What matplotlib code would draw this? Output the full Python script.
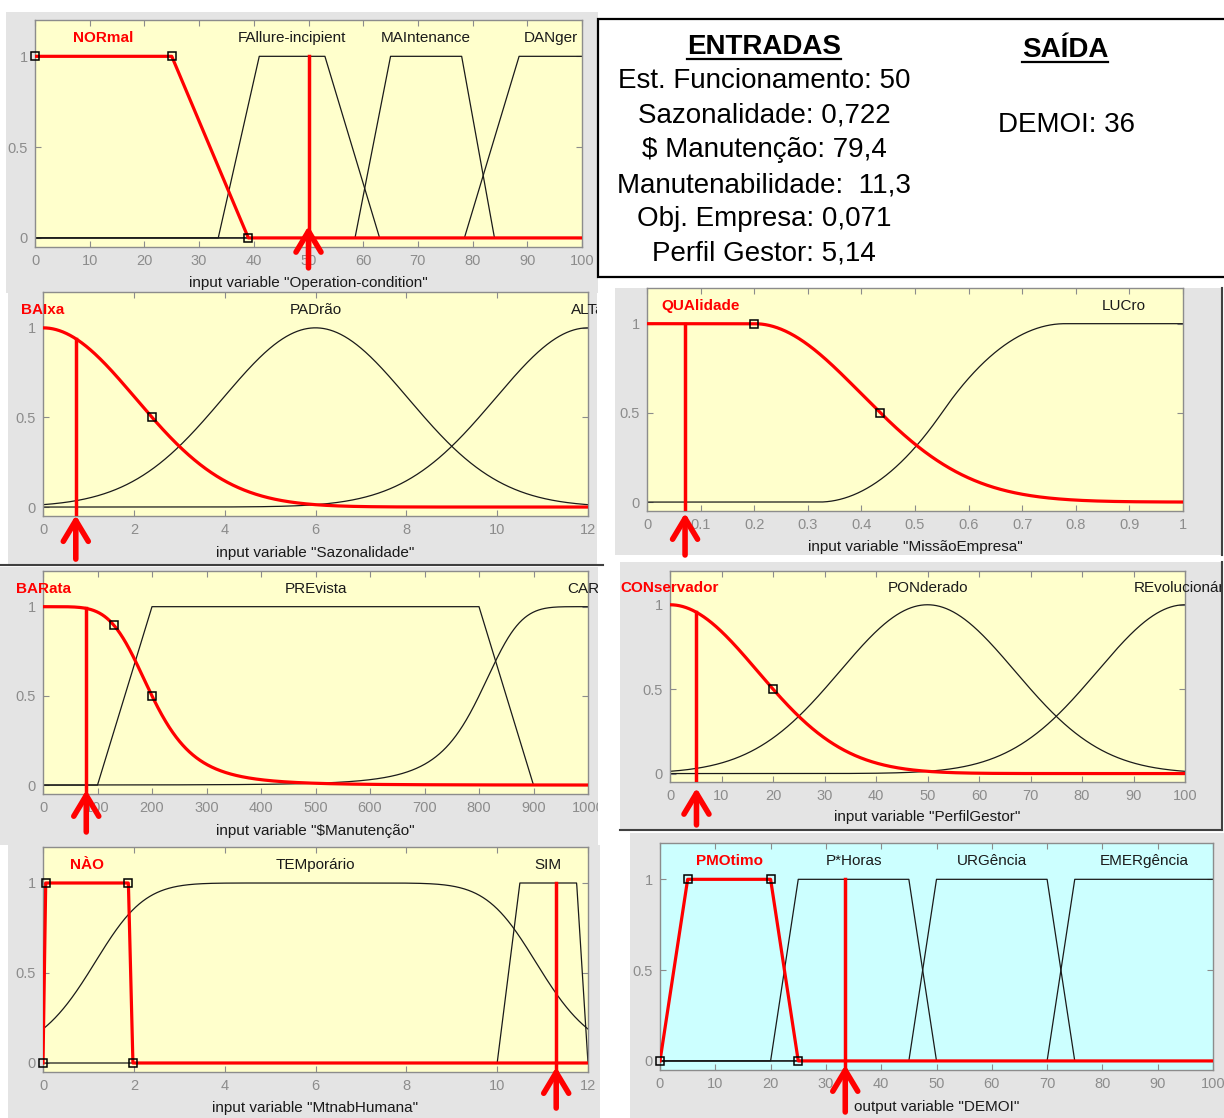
import numpy as np
import matplotlib
matplotlib.use('Agg')
import matplotlib.pyplot as plt
from matplotlib.patches import Rectangle
from matplotlib.lines import Line2D
from matplotlib.transforms import Bbox, TransformedBbox

plt.rcParams['font.family'] = ['Liberation Sans', 'DejaVu Sans']

# ---- membership function data ----
oper_names = ['NORmal', 'FAllure-incipient', 'MAIntenance', 'DANger']
oper_trap = [[0, 0, 25, 39], [33.5, 41, 53, 63], [58.5, 65, 78, 84], [78.5, 88.5, 100, 100]]
oper_ticks = [0, 10, 20, 30, 40, 50, 60, 70, 80, 90, 100]
oper_input = 50
oper_marks = [(0, 1), (25, 1), (39, 0)]

saz_names = ['BAIxa', 'PADrão', 'ALTa']
saz_centers = [0, 6, 12]
saz_sigma = 2.04
saz_ticks = [0, 2, 4, 6, 8, 10, 12]
saz_input = 0.722
saz_marks = [(2.4, 0.5)]

missao_names = ['QUAlidade', 'LUCro']
missao_qua = [0.2, 0.2]      # flat until c, then gaussian tail (c, sigma)
missao_lucro = [0.32, 0.78]  # s-shaped
missao_ticks = [0, 0.1, 0.2, 0.3, 0.4, 0.5, 0.6, 0.7, 0.8, 0.9, 1]
missao_input = 0.071
missao_marks = [(0.2, 1), (0.435, 0.5)]

manut_names = ['BARata', 'PREvista', 'CARa']
manut_barata = [200, 2.5, 0]     # bell a, b, c
manut_prevista = [100, 200, 800, 900]
manut_cara = [200, 2.5, 1000]
manut_ticks = [0, 100, 200, 300, 400, 500, 600, 700, 800, 900, 1000]
manut_input = 79.4
manut_marks = [(130, 0.9), (200, 0.5)]

perfil_names = ['CONservador', 'PONderado', 'REvolucionário']
perfil_centers = [0, 50, 100]
perfil_sigma = 17
perfil_ticks = [0, 10, 20, 30, 40, 50, 60, 70, 80, 90, 100]
perfil_input = 5.14
perfil_marks = [(20, 0.5)]

mtnab_names = ['NÀO', 'TEMporário', 'SIM']
mtnab_nao = [0, 0.06, 1.88, 1.98]
mtnab_temp = [5, 4, 6]
mtnab_sim = [10, 10.5, 11.75, 12]
mtnab_ticks = [0, 2, 4, 6, 8, 10, 12]
mtnab_input = 11.3
mtnab_marks = [(0, 0), (0.06, 1), (1.88, 1), (1.98, 0)]

demoi_names = ['PMOtimo', 'P*Horas', 'URGência', 'EMERgência']
demoi_trap = [[0, 5, 20, 25], [20, 25, 45, 50], [45, 50, 70, 75], [70, 75, 100, 100]]
demoi_ticks = [0, 10, 20, 30, 40, 50, 60, 70, 80, 90, 100]
demoi_output = 33.5
demoi_marks = [(0, 0), (5, 1), (20, 1), (25, 0)]

entradas_title = 'ENTRADAS'
entradas_lines = ['Est. Funcionamento: 50', 'Sazonalidade: 0,722', '$ Manutenção: 79,4',
                  'Manutenabilidade:  11,3', 'Obj. Empresa: 0,071', 'Perfil Gestor: 5,14']
saida_title = 'SAÍDA'
saida_lines = ['DEMOI: 36']


def trapmf(x, p):
    a, b, c, d = p
    up = np.where(x >= a, 1.0, 0.0) if b == a else np.clip((x - a) / (b - a), 0, 1)
    down = np.where(x <= d, 1.0, 0.0) if d == c else np.clip((d - x) / (d - c), 0, 1)
    return np.minimum(up, down)


def gaussmf(x, c, s):
    return np.exp(-(x - c) ** 2 / (2 * s ** 2))


def gbellmf(x, p):
    a, b, c = p
    return 1.0 / (1.0 + np.abs((x - c) / a) ** (2 * b))


def halfgauss(x, p):
    c, s = p
    return np.where(x <= c, 1.0, gaussmf(x, c, s))


def smf(x, p):
    a, b = p
    m = (a + b) / 2
    y = np.where(x <= m, 2 * ((x - a) / (b - a)) ** 2, 1 - 2 * ((b - x) / (b - a)) ** 2)
    y = np.where(x <= a, 0.0, y)
    return np.where(x >= b, 1.0, y)


def grid(ticks):
    return np.linspace(ticks[0], ticks[-1], 2001)


xs = grid(oper_ticks)
oper_curves = [trapmf(xs, p) for p in oper_trap]
xz = grid(saz_ticks)
saz_curves = [gaussmf(xz, c, saz_sigma) for c in saz_centers]
xm = grid(missao_ticks)
missao_curves = [halfgauss(xm, missao_qua), smf(xm, missao_lucro)]
xn = grid(manut_ticks)
manut_curves = [gbellmf(xn, manut_barata), trapmf(xn, manut_prevista), gbellmf(xn, manut_cara)]
xp = grid(perfil_ticks)
perfil_curves = [gaussmf(xp, c, perfil_sigma) for c in perfil_centers]
xh = grid(mtnab_ticks)
mtnab_curves = [trapmf(xh, mtnab_nao), gbellmf(xh, mtnab_temp), trapmf(xh, mtnab_sim)]
xd = grid(demoi_ticks)
demoi_curves = [trapmf(xd, p) for p in demoi_trap]

W, H = 1224, 1118
fig = plt.figure(figsize=(W / 100, H / 100), dpi=100)
fig.patch.set_facecolor('white')


def fbox(l, t, r, b):
    return [l / W, 1 - b / H, (r - l) / W, (b - t) / H]


YELLOW = '#ffffcc'
CYAN = '#ccffff'
GRAY_BG = '#e4e4e4'
TICKC = '#8c8c8c'

# (x, curves, names, ticks, value, marks, xlabel, ax box, bg box, xlabel y, arrow tip, arrow len px, face)
panels = [
    (xs, oper_curves, oper_names, oper_ticks, oper_input, oper_marks,
     'input variable "Operation-condition"', (35, 20, 582, 247), (6, 12, 598, 293), 283, 0.093, 42, YELLOW),
    (xz, saz_curves, saz_names, saz_ticks, saz_input, saz_marks,
     'input variable "Sazonalidade"', (43, 292, 588, 516), (8, 293, 597, 565), 553, 0.004, 44, YELLOW),
    (xm, missao_curves, missao_names, missao_ticks, missao_input, missao_marks,
     'input variable "MissãoEmpresa"', (647, 288, 1183, 511), (615, 288, 1222, 555), 547, -0.009, 42, YELLOW),
    (xn, manut_curves, manut_names, manut_ticks, manut_input, manut_marks,
     'input variable "$Manutenção"', (43, 571, 588, 794), (0, 567, 598, 845), 831, 0.018, 42, YELLOW),
    (xp, perfil_curves, perfil_names, perfil_ticks, perfil_input, perfil_marks,
     'input variable "PerfilGestor"', (670, 571, 1185, 782), (620, 562, 1222, 830), 817, -0.028, 37, YELLOW),
    (xh, mtnab_curves, mtnab_names, mtnab_ticks, mtnab_input, mtnab_marks,
     'input variable "MtnabHumana"', (43, 847, 588, 1072), (8, 845, 600, 1118), 1108, 0.022, 41, YELLOW),
    (xd, demoi_curves, demoi_names, demoi_ticks, demoi_output, demoi_marks,
     'output variable "DEMOI"', (660, 843, 1213, 1070), (630, 833, 1224, 1118), 1107, 0.022, 47, CYAN),
]

for x, curves, names, ticks, val, marks, xlab, abox, bgbox, xly, tip, alen, face in panels:
    fig.add_artist(Rectangle((fbox(*bgbox)[0], fbox(*bgbox)[1]), fbox(*bgbox)[2], fbox(*bgbox)[3],
                             transform=fig.transFigure, facecolor=GRAY_BG, edgecolor='none', zorder=-5))
    clip = TransformedBbox(Bbox.from_bounds(*fbox(*bgbox)), fig.transFigure)

    ax = fig.add_axes(fbox(*abox))
    ax.set_facecolor(face)
    for i in range(len(curves) - 1, 0, -1):
        ax.plot(x, curves[i], color='#1a1a1a', lw=0.9, zorder=2)
    ax.plot(x, curves[0], color='red', lw=2.3, zorder=3)
    mx, my = zip(*marks)
    ax.plot(mx, my, 's', ms=6, mfc='none', mec='black', mew=1.1, zorder=4, clip_on=False)

    for i, (yc, nm) in enumerate(zip(curves, names)):
        lx = x[yc >= yc.max() - 1e-9].mean()
        t = ax.text(lx, 1.1, nm, ha='center', va='center', fontsize=11,
                    color='red' if i == 0 else '#1a1a1a', fontweight='bold' if i == 0 else 'normal',
                    clip_on=True)
        t.set_clip_box(clip)

    mu = max(np.interp(val, x, yc) for yc in curves)
    ax.plot([val, val], [-0.05, mu], color='red', lw=2.5, zorder=5)
    ax.annotate('', xy=(val, tip), xycoords=ax.get_xaxis_transform(),
                xytext=(0, -alen * 0.72), textcoords='offset points', annotation_clip=False,
                arrowprops=dict(arrowstyle='->,head_length=0.75,head_width=0.45', lw=4,
                                color='red', shrinkA=0, shrinkB=0, mutation_scale=20), zorder=6)

    ax.set_xlim(ticks[0], ticks[-1])
    ax.set_ylim(-0.05, 1.2)
    ax.set_xticks(ticks)
    ax.set_xticklabels(['%g' % v for v in ticks])
    ax.set_yticks([0, 0.5, 1])
    ax.set_yticklabels(['0', '0.5', '1'])
    ax.tick_params(direction='in', top=True, right=True, length=4, color=TICKC,
                   labelcolor=TICKC, labelsize=10.5, pad=5)
    for sp in ax.spines.values():
        sp.set_color(TICKC)
        sp.set_linewidth(1.0)
    for lab in ax.get_xticklabels() + ax.get_yticklabels():
        lab.set_clip_box(clip)
        lab.set_clip_on(True)
    ax.text(0.5, (abox[3] - xly) / (abox[3] - abox[1]), xlab, transform=ax.transAxes,
            ha='center', va='center', fontsize=11, color='#1a1a1a')

# separator lines between screenshots
for (x0, y0, x1, y1) in [(0, 565, 603, 565), (620, 830, 1222, 830), (1222, 288, 1222, 555), (1222, 562, 1222, 830)]:
    fig.add_artist(Line2D([x0 / W, x1 / W], [1 - y0 / H, 1 - y1 / H], transform=fig.transFigure,
                          color='#404040', lw=1.5))

# results box
fig.add_artist(Rectangle((598 / W, 1 - 277 / H), 640 / W, 258 / H, transform=fig.transFigure,
                         facecolor='white', edgecolor='black', lw=1.6, zorder=1))
titles = [fig.text(764 / W, 1 - 54 / H, entradas_title, ha='center', va='baseline',
                   fontsize=20, fontweight='bold'),
          fig.text(1065 / W, 1 - 57 / H, saida_title, ha='center', va='baseline',
                   fontsize=20, fontweight='bold')]
baselines = [88, 123, 157, 192, 226, 260]
for s, yb in zip(entradas_lines, baselines):
    fig.text(764 / W, 1 - yb / H, s, ha='center', va='baseline', fontsize=20)
fig.text(1066 / W, 1 - 132 / H, saida_lines[0], ha='center', va='baseline', fontsize=20)

fig.canvas.draw()
for t, uy in zip(titles, [59, 62]):
    bb = t.get_window_extent()
    fig.add_artist(Line2D([bb.x0 / W, bb.x1 / W], [1 - uy / H, 1 - uy / H],
                          transform=fig.transFigure, color='black', lw=1.6))

fig.savefig('out.png', dpi=100)
